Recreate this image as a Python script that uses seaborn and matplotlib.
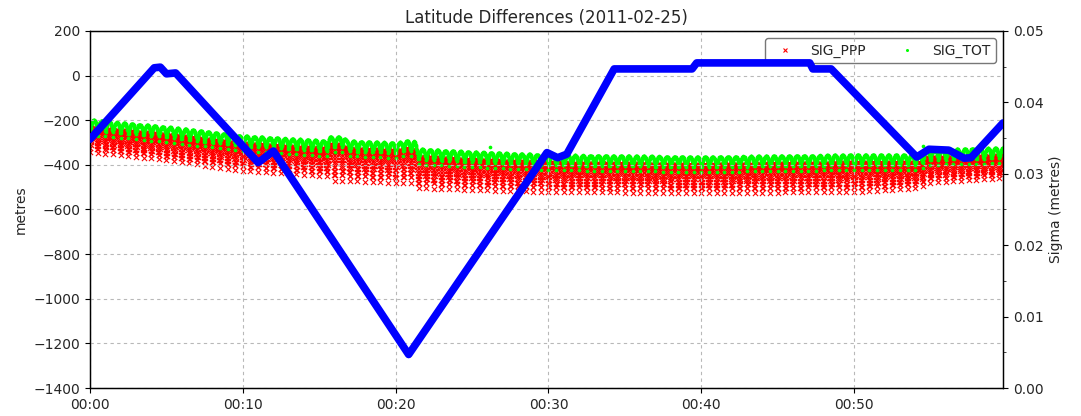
import numpy as np
import matplotlib
matplotlib.use("Agg")
import matplotlib.pyplot as plt
from matplotlib.ticker import MultipleLocator, FuncFormatter
from matplotlib.lines import Line2D
import seaborn as sns

# Latitude difference track (minutes after 00:00, metres)
lat_t = [0.0, 4.2, 4.6, 5.0, 5.6, 11.0, 12.0, 20.85, 29.9, 30.6, 31.2, 34.3,
         39.4, 39.7, 47.1, 47.3, 48.5, 54.1, 54.9, 56.2, 57.2, 57.65, 59.75]
lat_diff = [-285, 35, 38, 8, 12, -390, -338, -1250, -345, -368, -352, 30,
            30, 57, 57, 30, 30, -365, -330, -334, -370, -368, -212]

# Sigma band envelopes (minutes, metres)
sig_t = [0.0, 5.0, 10.0, 15.5, 15.7, 16.6, 16.8, 20.2, 20.4, 21.2, 21.4,
         25.0, 30.0, 40.0, 50.0, 54.4, 54.6, 59.8]
tot_top = [0.03754, 0.03656, 0.03530, 0.03459, 0.03516, 0.03516, 0.03459,
           0.03431, 0.03459, 0.03459, 0.03347, 0.03305, 0.03263, 0.03235,
           0.03263, 0.03263, 0.03333, 0.03361]
ppp_low = [0.03305, 0.03193, 0.03039, 0.02969, 0.02899, 0.02899, 0.02899,
           0.02871, 0.02871, 0.02871, 0.02801, 0.02773, 0.02745, 0.02731,
           0.02745, 0.02801, 0.02871, 0.02942]
tot_depth = 0.0021      # hump height of the total sigma
ppp_offset = 0.0010     # PPP band top below the total-sigma top
cycle_s = 30.0          # filter cycle length in seconds

# isolated total-sigma jumps
tot_spike_t = [26.15, 54.5]
tot_spike_v = [0.03375, 0.03390]

sns.set_style("ticks")
plt.rcParams["font.family"] = ["DejaVu Sans"]

fig = plt.figure(figsize=(10.81, 4.16), dpi=100)
ax = fig.add_axes([0.0833, 0.0673, 0.8446, 0.8582])
ax2 = ax.twinx()

# per-second sigma samples within the envelopes
secs = np.arange(0, 59.8 * 60, 1.0)
tm = secs / 60.0
phase = (secs % cycle_s) / cycle_s
top_i = np.interp(tm, sig_t, tot_top)
low_i = np.interp(tm, sig_t, ppp_low)
sig_tot = (top_i - tot_depth) + tot_depth * np.sin(np.pi * phase) ** 0.5
ppp_top = top_i - ppp_offset
sig_ppp = low_i + (ppp_top - low_i) * np.sin(np.pi * phase) ** 0.8

sns.scatterplot(x=tm, y=sig_ppp, ax=ax2, marker="x", color="red", s=14,
                linewidth=0.8, legend=False, zorder=2)
sns.scatterplot(x=np.concatenate([tm, tot_spike_t]),
                y=np.concatenate([sig_tot, tot_spike_v]), ax=ax2,
                marker="o", color="#00ff00", s=7, linewidth=0, legend=False,
                zorder=3)

sns.lineplot(x=lat_t, y=lat_diff, ax=ax, color="#0000ff", lw=5.5,
             solid_joinstyle="round", solid_capstyle="round", zorder=4)

ax.set_zorder(ax2.get_zorder() + 1)
ax.patch.set_visible(False)

ax.set_xlim(0, 59.75)
ax.set_ylim(-1400, 200)
ax2.set_ylim(0, 0.05)
ax.yaxis.set_major_locator(MultipleLocator(200))
ax.xaxis.set_major_locator(MultipleLocator(10))
ax.xaxis.set_major_formatter(FuncFormatter(lambda v, p: f"{int(v // 60):02d}:{int(v % 60):02d}"))
ax2.yaxis.set_major_locator(MultipleLocator(0.01))
ax2.yaxis.set_minor_locator(MultipleLocator(0.005))
ax2.yaxis.set_major_formatter(FuncFormatter(lambda v, p: f"{v:.2f}"))

ax.grid(True, linestyle=(0, (3, 3)), color="#b8b8b8", lw=0.8)
ax.tick_params(labelsize=10, color="black", length=3.5)
ax2.tick_params(labelsize=10, color="black", length=3.5)
ax2.tick_params(which="minor", length=2)
for a in (ax, ax2):
    for s in a.spines.values():
        s.set_color("black")
        s.set_linewidth(0.9)

ax.set_ylabel("metres", fontsize=10)
ax.set_xlabel("")
ax2.set_ylabel("Sigma (metres)", fontsize=10)
ax.set_title("Latitude Differences (2011-02-25)", fontsize=12)

handles = [Line2D([], [], ls="none", marker="x", color="red", ms=3.5, mew=0.8),
           Line2D([], [], ls="none", marker="o", color="#00ff00", ms=2.2, mew=0)]
ax2.legend(handles, ["SIG_PPP", "SIG_TOT"], loc="upper right", ncol=2,
           fontsize=10, frameon=True, edgecolor="#555555", fancybox=True)

fig.savefig("out.png", dpi=100)
